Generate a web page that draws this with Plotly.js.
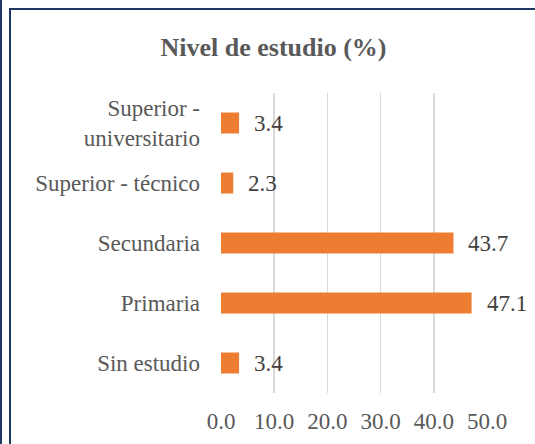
<!DOCTYPE html>
<html>
<head>
<meta charset="utf-8">
<script src="https://cdn.plot.ly/plotly-3.0.1.min.js"></script>
<style>
  html, body { margin: 0; padding: 0; background: #fff; }
  #wrap { position: relative; width: 535px; height: 444px; overflow: hidden; }
  #chart { position: absolute; left: 0; top: 0; width: 535px; height: 444px; }
  .bd { position: absolute; background: #203864; z-index: 10; }
</style>
</head>
<body>
<div id="wrap">
  <div id="chart"></div>
  <div class="bd" style="left:0;top:0;width:2px;height:444px;"></div>
  <div class="bd" style="left:9px;top:8px;width:2px;height:436px;"></div>
  <div class="bd" style="left:9px;top:8px;width:526px;height:2px;"></div>
</div>
<script>
const categories = ["Sin estudio", "Primaria", "Secundaria", "Superior - técnico", "Superior -<br>universitario"];
const values = [3.4, 47.1, 43.7, 2.3, 3.4];
const xTicks = [0, 10, 20, 30, 40, 50];
const xTickLabels = ["0.0", "10.0", "20.0", "30.0", "40.0", "50.0"];
const chartTitle = "Nivel de estudio (%)";

const fontFam = "Liberation Serif";

const trace = {
  type: "bar",
  orientation: "h",
  x: values,
  y: categories,
  marker: { color: "#ED7D31" },
  hoverinfo: "skip"
};

const annotations = values.map((v, i) => ({
  x: v, y: categories[i], xref: "x", yref: "y",
  text: v.toFixed(1), showarrow: false,
  xanchor: "left", yanchor: "middle", xshift: 13,
  font: { family: fontFam, size: 23, color: "#404040" }
}));

const layout = {
  width: 535, height: 444,
  margin: { l: 221, r: 48, t: 93, b: 51 },
  paper_bgcolor: "#ffffff",
  plot_bgcolor: "#ffffff",
  showlegend: false,
  bargap: 0.65,
  font: { family: fontFam, size: 23 },
  title: {
    text: "<b>" + chartTitle + "</b>",
    x: 273.5 / 535, xref: "container", xanchor: "center",
    y: 1 - 47/444, yref: "container", yanchor: "middle",
    font: { family: fontFam, size: 26, color: "#595959" }
  },
  xaxis: {
    range: [0, 50],
    tickvals: xTicks,
    ticktext: xTickLabels,
    showgrid: true,
    gridcolor: "#D9D9D9",
    gridwidth: 1.5,
    zeroline: false,
    showline: false,
    ticks: "",
    ticklabelstandoff: 12,
    tickfont: { family: fontFam, size: 23, color: "#595959" },
    fixedrange: true
  },
  yaxis: {
    type: "category",
    categoryorder: "array",
    categoryarray: categories,
    showgrid: false,
    zeroline: false,
    showline: false,
    ticks: "",
    ticklabelstandoff: 20,
    tickfont: { family: fontFam, size: 23, color: "#595959" },
    fixedrange: true
  },
  annotations: annotations
};

Plotly.newPlot("chart", [trace], layout, { displayModeBar: false, staticPlot: true });
</script>
</body>
</html>
